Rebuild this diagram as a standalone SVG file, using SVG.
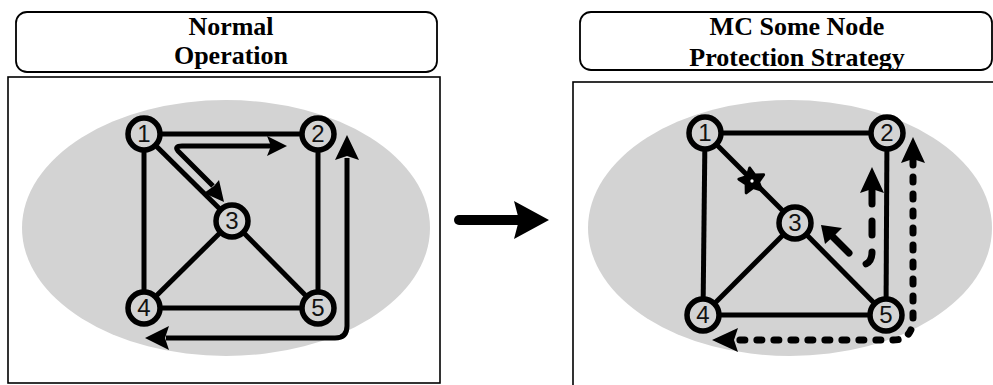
<svg xmlns="http://www.w3.org/2000/svg" width="993" height="385" viewBox="0 0 993 385">
<style>
.title{font-family:"Liberation Serif","Times New Roman",serif;font-weight:bold;font-size:26px;fill:#000;text-anchor:middle}
.tbox{fill:#fff;stroke:#000;stroke-width:1.8}
.cbox{fill:#fff;stroke:#000;stroke-width:1.6}
.oval{fill:#d3d3d3}
.edge{stroke:#000;stroke-width:5;fill:none}
.node circle{fill:#d3d3d3;stroke:#000;stroke-width:5.5}
.node text{font-family:"Liberation Sans",Arial,sans-serif;font-size:24px;fill:#111;text-anchor:middle}
.path{stroke:#000;stroke-width:5;fill:none;stroke-linejoin:round}
.head{fill:#000}
.dash{stroke:#000;stroke-width:7;fill:none;stroke-linecap:round;stroke-dasharray:14 17}
.dot{stroke:#000;stroke-width:7;fill:none;stroke-linecap:round;stroke-dasharray:5 12}
</style>
<rect width="993" height="385" fill="#fff"/>

<!-- Left panel -->
<g id="left-title">
<rect class="tbox" x="16" y="12" width="421" height="60" rx="11"/>
<text class="title" x="231" y="35">Normal</text>
<text class="title" x="231" y="64">Operation</text>
</g>
<rect class="cbox" x="8" y="77" width="432" height="306"/>
<ellipse class="oval" cx="226" cy="228" rx="204" ry="128"/>

<g id="left-edges">
<line class="edge" x1="144" y1="134" x2="318" y2="134"/>
<line class="edge" x1="144" y1="134" x2="144" y2="308"/>
<line class="edge" x1="318" y1="134" x2="318" y2="308"/>
<line class="edge" x1="144" y1="308" x2="318" y2="308"/>
<line class="edge" x1="144" y1="134" x2="232" y2="221"/>
<line class="edge" x1="232" y1="221" x2="144" y2="308"/>
<line class="edge" x1="232" y1="221" x2="318" y2="308"/>
</g>

<g id="left-connectors">
<path class="path" d="M213,186 L178,151 Q174,146 182,146 L272,146"/>
<polygon class="head" points="287,146 267,136 271,146 267,156"/>
<polygon class="head" points="224,202 204,193 214,186 219,180"/>
<path class="path" d="M347,158 L347,326 Q347,338 335,338 L166,338"/>
<polygon class="head" points="347,135 335,160 347,156 359,160"/>
<polygon class="head" points="145,338 169,326 165,338 169,350"/>
</g>

<g id="L1" class="node"><circle cx="144" cy="134" r="16"/><text x="144" y="142">1</text></g>
<g id="L2" class="node"><circle cx="318" cy="134" r="16"/><text x="318" y="142">2</text></g>
<g id="L3" class="node"><circle cx="232" cy="221" r="16"/><text x="232" y="229">3</text></g>
<g id="L4" class="node"><circle cx="144" cy="308" r="16"/><text x="144" y="316">4</text></g>
<g id="L5" class="node"><circle cx="318" cy="308" r="16"/><text x="318" y="316">5</text></g>

<!-- Middle arrow -->
<g id="mid-arrow">
<line x1="459" y1="220" x2="518" y2="220" stroke="#000" stroke-width="10" stroke-linecap="round"/>
<polygon class="head" points="549,220 514,201 519,220 514,239"/>
</g>

<!-- Right panel -->
<g id="right-title">
<rect class="tbox" x="580" y="12" width="412" height="58" rx="11"/>
<text class="title" x="797" y="35">MC Some Node</text>
<text class="title" x="797" y="66">Protection Strategy</text>
</g>
<rect class="cbox" x="573" y="82" width="440" height="320"/>
<ellipse class="oval" cx="790" cy="228" rx="202" ry="128"/>

<g id="right-edges">
<line class="edge" x1="705" y1="133" x2="887" y2="133"/>
<line class="edge" x1="705" y1="133" x2="703" y2="315"/>
<line class="edge" x1="887" y1="133" x2="886" y2="315"/>
<line class="edge" x1="703" y1="315" x2="886" y2="315"/>
<line class="edge" x1="705" y1="133" x2="795" y2="223"/>
<line class="edge" x1="795" y1="223" x2="703" y2="315"/>
<line class="edge" x1="795" y1="223" x2="886" y2="315"/>
</g>

<g id="failure-star" transform="translate(752,181) scale(1.2)">
<polygon points="-1.9,-10.8 2.4,-4.9 9.7,-5.2 5.5,0.8 7.9,7.6 1,5.4 -4.8,9.9 -4.9,2.6 -10.9,-1.5 -4,-3.8" fill="#000" stroke="#000" stroke-width="2.5" stroke-linejoin="round"/>
<circle cx="0" cy="0" r="1.4" fill="#fff"/>
</g>

<g id="right-connectors">
<path class="dash" d="M872,190 L872,252 Q872,265 860,265"/>
<polygon class="head" points="872,167 860,193 872,189 884,193"/>
<line x1="849" y1="253" x2="833" y2="237" stroke="#000" stroke-width="7" stroke-linecap="round"/>
<polygon class="head" points="821,225 825,244 834,236 842,228"/>
<path class="dot" d="M913,160 L913,318 Q913,340 893,340 L737,340"/>
<polygon class="head" points="913,137 901,163 913,159 925,163"/>
<polygon class="head" points="712,340 738,328 734,340 738,352"/>
</g>

<g id="R1" class="node"><circle cx="705" cy="133" r="16"/><text x="705" y="141">1</text></g>
<g id="R2" class="node"><circle cx="887" cy="133" r="16"/><text x="887" y="141">2</text></g>
<g id="R3" class="node"><circle cx="795" cy="223" r="16"/><text x="795" y="231">3</text></g>
<g id="R4" class="node"><circle cx="703" cy="315" r="16"/><text x="703" y="323">4</text></g>
<g id="R5" class="node"><circle cx="886" cy="315" r="16"/><text x="886" y="323">5</text></g>
</svg>
